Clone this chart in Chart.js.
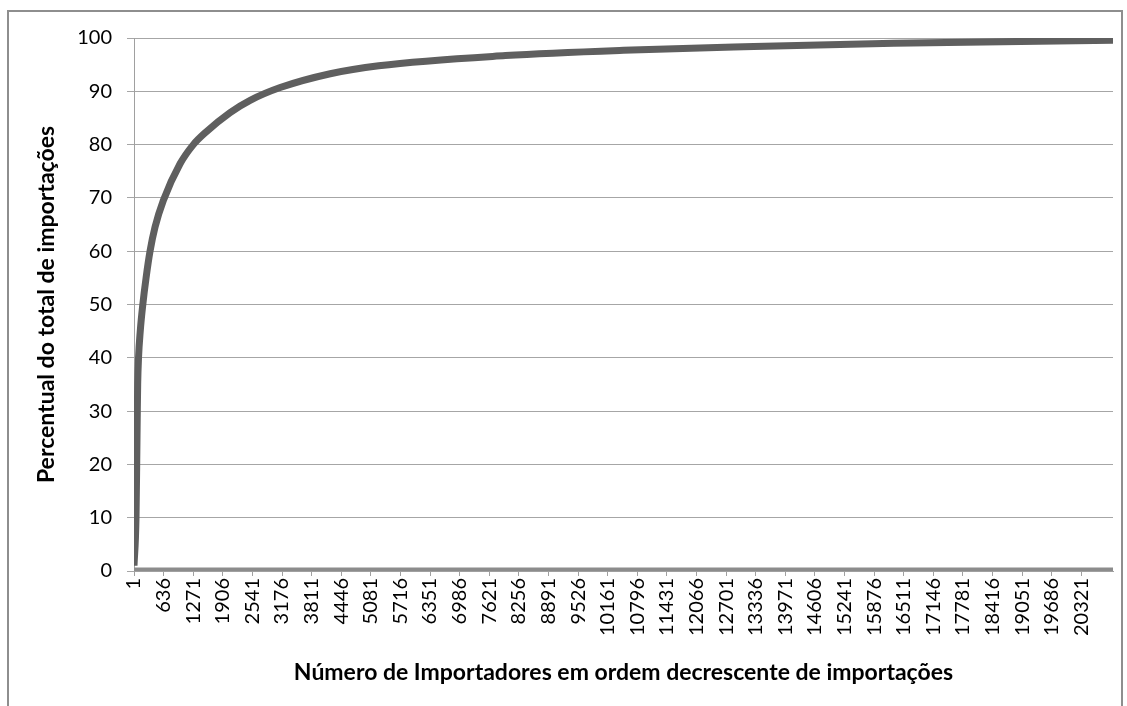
<!DOCTYPE html>
<html lang="pt-BR">
<head>
    <meta charset="UTF-8">
    <title>Curva de concentração das importações</title>
    <script src="https://cdn.jsdelivr.net/npm/chart.js"></script>
    <style>
        body {
            margin: 0;
            background-color: #fff;
            overflow: hidden;
        }

        .frame {
            position: absolute;
            left: 7px;
            top: 10px;
            width: 1112px;
            height: 740px;
            border: 2px solid #8e8e8e;
        }

        #curva {
            position: absolute;
            left: 0;
            top: 0;
        }
    </style>
</head>
<body>
    <div class="frame"></div>
    <canvas id="curva" width="1127" height="706"></canvas>

    <script>
        // posição do importador (ordem decrescente) e percentual acumulado
        const importadores = [1, 44, 59, 72, 80, 98, 135, 190, 260, 345, 452, 630, 989, 1274, 1525, 2062, 2492, 3136, 4210, 5250, 7967, 10500, 13293, 16300, 21000];
        const percentual = [1.0, 10, 20, 30, 35, 40, 45, 50, 55, 60, 64.5, 69.5, 76.4, 80, 82.2, 86.0, 88.3, 90.7, 93.3, 94.8, 96.7, 97.7, 98.4, 99.0, 99.6];

        // participação individual de cada importador (praticamente zero)
        const participacaoX = [1, 21000];
        const participacao = [0, 0];

        const xTicks = [1, 636, 1271, 1906, 2541, 3176, 3811, 4446, 5081, 5716, 6351, 6986, 7621, 8256, 8891, 9526,
            10161, 10796, 11431, 12066, 12701, 13336, 13971, 14606, 15241, 15876, 16511, 17146, 17781, 18416, 19051, 19686, 20321];

        const ctx = document.getElementById('curva').getContext('2d');
        new Chart(ctx, {
            type: 'line',
            data: {
                datasets: [{
                    label: 'Percentual acumulado',
                    data: importadores.map((x, i) => ({ x: x, y: percentual[i] })),
                    borderColor: '#5f5f5f',
                    borderWidth: 7,
                    pointRadius: 0,
                    cubicInterpolationMode: 'monotone',
                    order: 1
                }, {
                    label: 'Participação',
                    data: participacaoX.map((x, i) => ({ x: x, y: participacao[i] })),
                    borderColor: '#8c8c8c',
                    borderWidth: 7,
                    pointRadius: 0,
                    order: 2
                }]
            },
            options: {
                responsive: false,
                animation: false,
                layout: { padding: { top: 38, right: 14, left: 0, bottom: 0 } },
                plugins: { legend: { display: false }, tooltip: { enabled: false } },
                scales: {
                    x: {
                        type: 'linear',
                        min: 1,
                        max: 21000,
                        afterBuildTicks: s => { s.ticks = xTicks.map(v => ({ value: v })); },
                        afterFit: s => { s.height = 135; },
                        grid: { drawOnChartArea: false, tickLength: 5, color: '#a0a0a0' },
                        border: { color: '#a0a0a0' },
                        ticks: {
                            autoSkip: false,
                            minRotation: 90,
                            maxRotation: 90,
                            padding: 2,
                            color: '#000',
                            font: { family: 'Lato', size: 20 },
                            callback: v => String(v)
                        },
                        title: {
                            display: true,
                            text: 'Número de Importadores em ordem decrescente de importações',
                            color: '#000',
                            font: { family: 'Lato', size: 23, weight: 'bold' },
                            padding: { top: 4, bottom: 20 }
                        }
                    },
                    y: {
                        min: 0,
                        max: 100,
                        afterFit: s => { s.width = 134; },
                        grid: { color: '#a6a6a6', tickLength: 7 },
                        border: { color: '#a0a0a0' },
                        ticks: {
                            stepSize: 10,
                            padding: 15,
                            color: '#000',
                            font: { family: 'Lato', size: 20 }
                        },
                        title: {
                            display: true,
                            text: 'Percentual do total de importações',
                            color: '#000',
                            font: { family: 'Lato', size: 23, weight: 'bold' },
                            padding: { top: 33, bottom: 4 }
                        }
                    }
                }
            }
        });
    </script>
</body>
</html>
